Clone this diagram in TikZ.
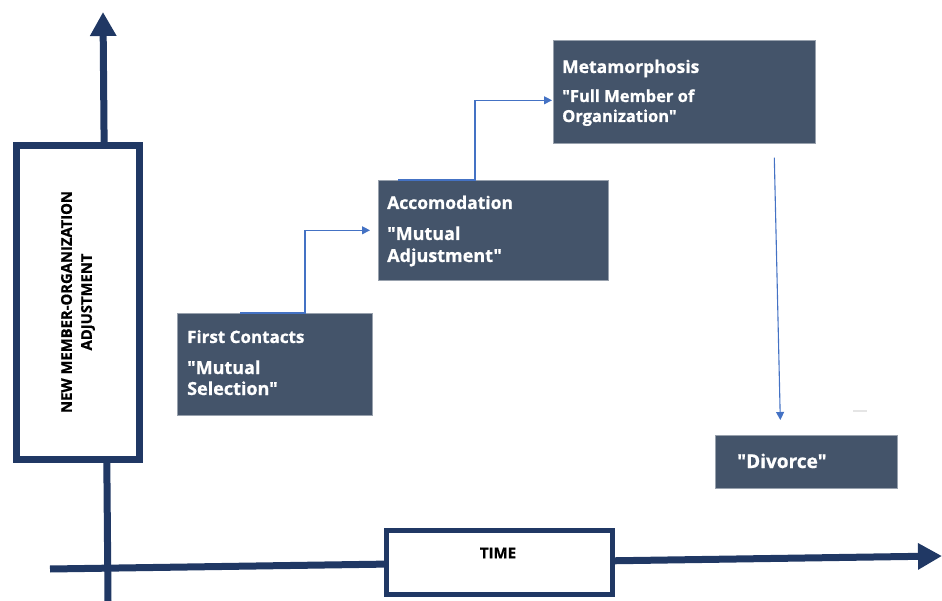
\documentclass[tikz,border=0pt]{standalone}
\usepackage{fontspec}
\setmainfont{Open Sans}[Ligatures=TeXOff,BoldFeatures={FakeBold=0.8}]
\usetikzlibrary{arrows.meta}
\definecolor{navy}{HTML}{203864}
\definecolor{slate}{HTML}{44546A}
\definecolor{linkblue}{HTML}{4472C4}
\begin{document}
\begin{tikzpicture}[x=1pt,y=-1pt,line join=miter,font=\bfseries]
	\tikzset{
		axis/.style={draw=navy,line width=7pt,-{Triangle[width=25pt,length=24pt]}},
		axisbox/.style={draw=navy,fill=white,inner sep=0pt},
		axislabel/.style={text=black,inner sep=0pt},
		stage/.style={fill=slate,draw=slate!55!white,line width=0.6pt,inner sep=0pt,anchor=north west},
		stagetitle/.style={text=white,anchor=base west,inner sep=0pt,font=\fontsize{17}{20}\selectfont\bfseries},
		stagequote/.style={text=white,anchor=base west,inner sep=0pt,font=\fontsize{18}{21}\selectfont\bfseries},
		link/.style={draw=linkblue,line width=1.1pt,-{Triangle[width=8pt,length=8pt]}},
	}
	\useasboundingbox (0,0) rectangle (942,601);
	% axes
	\coordinate (ybot) at (108,601);
	\coordinate (ytop) at (103,12);
	\coordinate (xleft) at (50,569);
	\coordinate (xright) at (942,556);
	\draw[axis] (ybot)--(ytop);
	\draw[axis] (xleft)--(xright);
	\node[axisbox,line width=7pt,minimum width=123pt,minimum height=314pt] (vbox) at (78,302.5) {};
	\node[axislabel,rotate=90,align=center,font=\fontsize{14.8}{20}\selectfont\bfseries] (vlabel) at (78,302) {NEW MEMBER-ORGANIZATION\\ADJUSTMENT};
	\node[axisbox,line width=5pt,minimum width=226pt,minimum height=64pt] (tbox) at (499.5,562.5) {};
	\node[axislabel,font=\fontsize{15}{17}\selectfont\bfseries] (tlabel) at (498,553) {TIME};
	% stages
	\node[stage,minimum width=195pt,minimum height=102pt] (fc) at (177,313) {};
	\node[stagetitle] (fc-title) at ([shift={(10,30)}]fc.north west) {First Contacts};
	\node[stagequote] (fc-q1) at ([shift={(10,61)}]fc.north west) {"Mutual};
	\node[stagequote] (fc-q2) at ([shift={(10,82)}]fc.north west) {Selection"};
	\node[stage,minimum width=230pt,minimum height=100pt] (acc) at (378,180) {};
	\node[stagetitle,font=\fontsize{17.5}{20}\selectfont\bfseries] (acc-title) at ([shift={(9,29)}]acc.north west) {Accomodation};
	\node[stagequote] (acc-q1) at ([shift={(9,60)}]acc.north west) {"Mutual};
	\node[stagequote] (acc-q2) at ([shift={(9,82)}]acc.north west) {Adjustment"};
	\node[stage,minimum width=262pt,minimum height=103pt] (meta) at (553,40) {};
	\node[stagetitle,font=\fontsize{17.5}{20}\selectfont\bfseries] (meta-title) at ([shift={(9,33)}]meta.north west) {Metamorphosis};
	\node[stagequote,font=\fontsize{16.5}{19}\selectfont\bfseries] (meta-q1) at ([shift={(9,62)}]meta.north west) {"Full Member of};
	\node[stagequote,font=\fontsize{16.5}{19}\selectfont\bfseries] (meta-q2) at ([shift={(9,82)}]meta.north west) {Organization"};
	\node[stage,minimum width=182pt,minimum height=53pt] (div) at (715,435) {};
	\node[stagequote,font=\fontsize{19}{22}\selectfont\bfseries] (div-q) at ([shift={(22,33)}]div.north west) {"Divorce"};
	% links
	\draw[link,shorten >=8pt] ([xshift=63pt]fc.north west)--([xshift=128pt]fc.north west)|-(acc.west);
	\draw[link,shorten >=1pt] ([xshift=20pt]acc.north west)--([xshift=97pt]acc.north west)|-([yshift=-8.5pt]meta.west);
	\draw[link] ([xshift=90pt,yshift=-14pt]meta.south)--([xshift=-26pt,yshift=15pt]div.north);
	\draw[gray!20,line width=1.5pt] (853,411)--(867,411);
\end{tikzpicture}
\end{document}
